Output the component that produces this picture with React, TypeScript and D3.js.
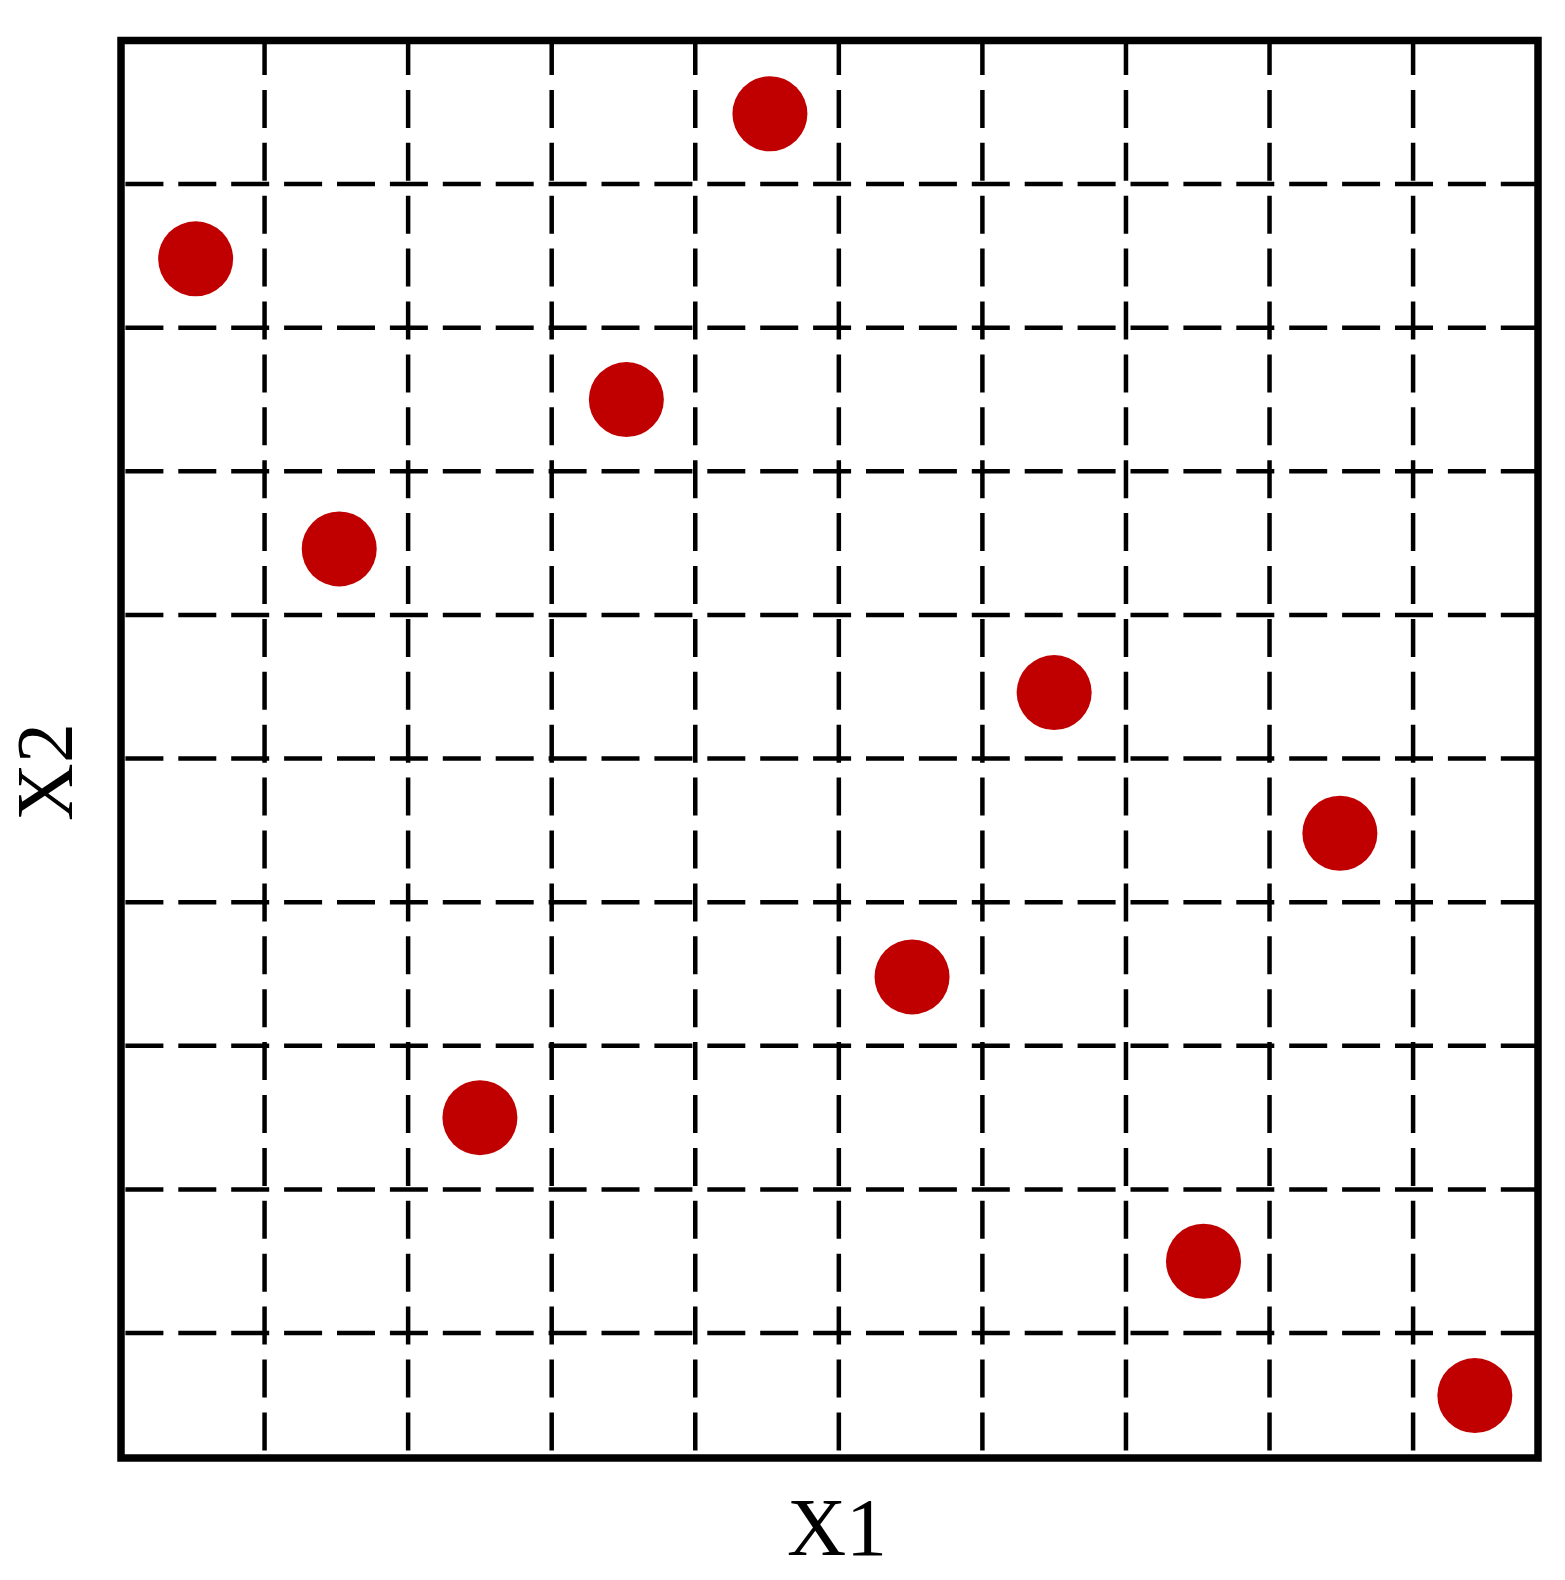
import React from "react";
import * as d3 from "d3";

const xValues = [0.052, 0.152, 0.25, 0.352, 0.452, 0.551, 0.65, 0.754, 0.849, 0.943];
const yValues = [0.848, 0.646, 0.25, 0.75, 0.949, 0.348, 0.546, 0.15, 0.448, 0.0565];
const gridTicks = [0.1, 0.2, 0.3, 0.4, 0.5, 0.6, 0.7, 0.8, 0.9];
const xLabel = "X1";
const yLabel = "X2";

const W = 1565;
const H = 1580;

export default function App() {
  const x = d3.scaleLinear().domain([0, 0.987]).range([121, 1538]);
  const y = d3.scaleLinear().domain([0.013, 1.0]).range([1458, 40.5]);
  const points = xValues.map((v, i) => ({ x: v, y: yValues[i] }));
  const [x0, x1] = x.range();
  const [y0, y1] = y.range();
  return (
    <svg
      width={W}
      height={H}
      style={{ position: "absolute", left: 0, top: 0, background: "#fff" }}
    >
      <rect x={0} y={0} width={W} height={H} fill="#fff" />
      <g>
        {gridTicks.map((t) => (
          <line
            key={"v" + t}
            x1={x(t)}
            x2={x(t)}
            y1={y1}
            y2={y0}
            stroke="#000"
            strokeWidth={4.5}
            strokeDasharray="38 14.9"
            strokeDashoffset={3.5}
          />
        ))}
        {gridTicks.map((t) => (
          <line
            key={"h" + t}
            x1={x0}
            x2={x1}
            y1={y(t)}
            y2={y(t)}
            stroke="#000"
            strokeWidth={4.5}
            strokeDasharray="38 14.9"
            strokeDashoffset={48.5}
          />
        ))}
      </g>
      <g>
        {points.map((p, i) => (
          <circle key={i} cx={x(p.x)} cy={y(p.y)} r={37.5} fill="#c00000" />
        ))}
      </g>
      <rect
        x={x0}
        y={y1}
        width={x1 - x0}
        height={y0 - y1}
        fill="none"
        stroke="#000"
        strokeWidth={7.5}
      />
      <text
        x={837}
        y={1555}
        textAnchor="middle"
        fontFamily="'Liberation Serif', 'Times New Roman', serif"
        fontSize={82}
        fill="#000"
      >
        {xLabel}
      </text>
      <text
        transform={`translate(72, 772) rotate(-90)`}
        textAnchor="middle"
        fontFamily="'Liberation Serif', 'Times New Roman', serif"
        fontSize={80}
        fill="#000"
      >
        {yLabel}
      </text>
    </svg>
  );
}
